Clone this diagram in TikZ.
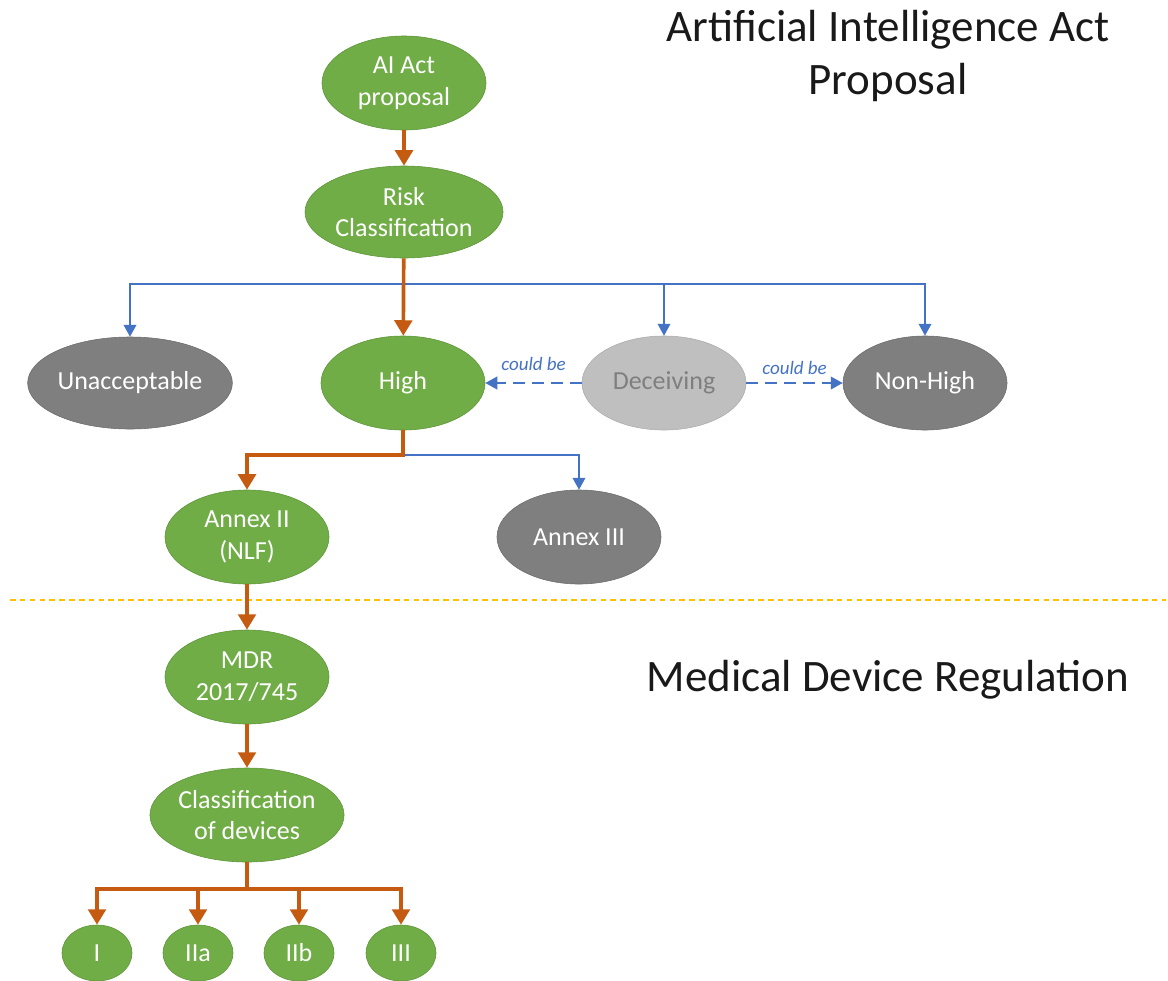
\documentclass[tikz,border=0pt]{standalone}
\usepackage{fontspec}
\setmainfont{Carlito}
\usetikzlibrary{positioning,shapes.geometric,arrows.meta}

\definecolor{leafgreen}{HTML}{70AD47}
\definecolor{leafedge}{HTML}{5E9438}
\definecolor{darkgrey}{HTML}{7F7F7F}
\definecolor{lightgrey}{HTML}{BFBFBF}
\definecolor{mainorange}{HTML}{C55A11}
\definecolor{sideblue}{HTML}{4472C4}
\definecolor{splitgold}{HTML}{FFC000}

\begin{document}
\begin{tikzpicture}[
    x=0.025cm, y=-0.025cm,
    every node/.style={font=\fontsize{18.5}{22.5}\selectfont},
    oval/.style={ellipse, draw=leafedge, fill=leafgreen, text=white, align=center,
        inner sep=0pt, minimum width=4.1cm, minimum height=2.35cm},
    greyoval/.style={oval, draw=darkgrey!85!black, fill=darkgrey},
    paleoval/.style={oval, draw=lightgrey!90!black, fill=lightgrey, text=darkgrey},
    classoval/.style={oval, minimum width=1.75cm, minimum height=1.4cm},
    mainflow/.style={draw=mainorange, line width=2.6pt, -{Triangle[width=12.5pt,length=11pt]}},
    sideflow/.style={draw=sideblue, line width=1.3pt, -{Triangle[width=9pt,length=8.5pt]}},
    maybeflow/.style={sideflow, dash pattern=on 8.5pt off 5pt},
    couldlabel/.style={font=\fontsize{13.5}{15}\selectfont\itshape, text=sideblue},
    heading/.style={font=\fontsize{32}{38}\selectfont, align=center, text=black!90}
]
\useasboundingbox (0,0) rectangle (1168,980);

% titles of the two parts
\node[heading] (acttitle) at (888,56) {Artificial Intelligence Act\\Proposal};
\node[heading] (mdrtitle) at (888,680) {Medical Device Regulation};

% AI act part
\node[oval] (act) at (404,83) {AI Act\\proposal};
\node[oval, minimum width=4.95cm, minimum height=2.3cm] (risk) at (404,212) {Risk\\Classification};
\node[greyoval, minimum width=4.6cm, minimum height=2.3cm] (unacc) at (130,383) {Unacceptable};
\node[oval] (high) at (403,383) {High};
\node[paleoval] (deceiving) at (664,383) {Deceiving};
\node[greyoval] (nonhigh) at (925,383) {Non-High};
\node[oval] (annexii) at (247,537) {Annex II\\(NLF)};
\node[greyoval] (annexiii) at (579,537) {Annex III};

% border between the two regulations
\draw[splitgold, line width=1.5pt, dash pattern=on 4pt off 3pt] (10,600) -- (1166,600);

% medical device part
\node[oval] (mdr) at (247,677) {MDR\\2017/745};
\node[oval, minimum width=4.675cm] (devices) at (247,815) {Classification\\of devices};
\node[classoval] (ci) at (97,953) {I};
\node[classoval] (cii) at (198,953) {IIa};
\node[classoval] (ciib) at (299,953) {IIb};
\node[classoval] (ciii) at (401,953) {III};

% risk levels
\coordinate[below=0.65cm of risk.south] (riskfork);
\draw[sideflow] (riskfork) -| (unacc.north);
\draw[sideflow] (riskfork) -| (deceiving.north);
\draw[sideflow] (riskfork) -| (nonhigh.north);
\draw[mainflow] (act) -- (risk);
\draw[mainflow] (risk) -- (high);

\draw[maybeflow] (deceiving) -- node[above=5pt, couldlabel] {could be} (high);
\draw[maybeflow] (deceiving) -- node[above=2pt, couldlabel] {could be} (nonhigh);

% high risk annexes
\coordinate[below=0.625cm of high.south] (highfork);
\draw[sideflow] (highfork) -| (annexiii.north);
\draw[mainflow] (high.south) -- (highfork) -| (annexii.north);

\draw[mainflow] (annexii) -- (mdr);
\draw[mainflow] (mdr) -- (devices);

% device classes
\coordinate[below=0.675cm of devices.south] (devfork);
\foreach \cls in {ci,cii,ciib,ciii}
    \draw[mainflow] (devices.south) -- (devfork) -| (\cls.north);

\end{tikzpicture}
\end{document}
